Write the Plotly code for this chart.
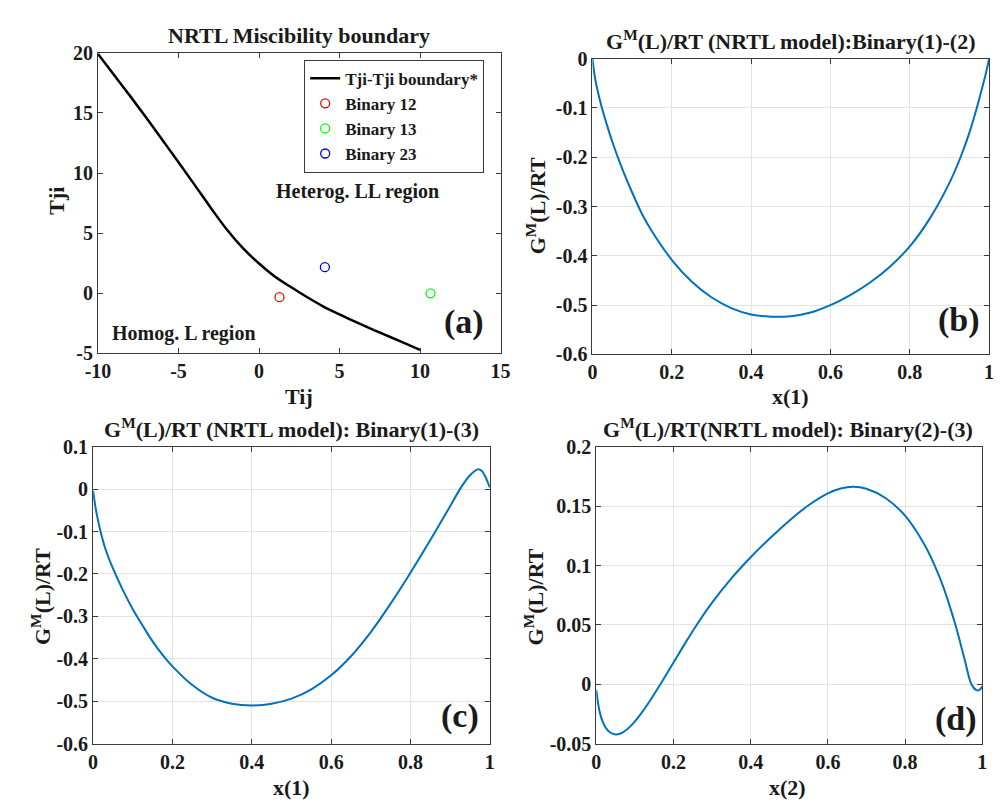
import plotly.graph_objects as go

# ---------------- data ----------------
# (a) miscibility boundary
tij_boundary = [-10, -9, -8, -7, -6, -5, -4, -3, -2, -1, 0, 1, 2, 3, 4, 5, 6, 7, 8, 9, 10]
tji_boundary = [19.9, 18.15, 16.4, 14.6, 12.75, 10.9, 9.02, 7.12, 5.3, 3.75, 2.48, 1.38, 0.5, -0.33,
                -1.1, -1.75, -2.38, -2.98, -3.55, -4.12, -4.7]
binary_names = ["Binary 12", "Binary 13", "Binary 23"]
binary_tij = [1.27, 10.65, 4.09]
binary_tji = [-0.32, 0.0, 2.17]
binary_colors = ["#FF0000", "#00FF00", "#0000FF"]

# (b) binary (1)-(2)
xb = [0, 0.005, 0.01, 0.023, 0.035, 0.05, 0.075, 0.1, 0.125, 0.15, 0.2, 0.25, 0.3, 0.35, 0.4,
      0.45, 0.5, 0.55, 0.6, 0.65, 0.7, 0.75, 0.8, 0.85, 0.9, 0.928, 0.95, 0.969, 0.98, 0.99,
      0.995, 1]
yb = [0, -0.031, -0.0535, -0.097, -0.13, -0.168, -0.223, -0.271, -0.315, -0.35, -0.408, -0.452,
      -0.484, -0.506, -0.519, -0.5235, -0.5225, -0.515, -0.5, -0.4795, -0.454, -0.422, -0.381,
      -0.325, -0.252, -0.2, -0.151, -0.1, -0.067, -0.036, -0.019, 0]

# (c) binary (1)-(3)
xc = [0, 0.005, 0.01, 0.018, 0.03, 0.05, 0.075, 0.1, 0.125, 0.15, 0.175, 0.2, 0.25, 0.3, 0.35,
      0.4, 0.45, 0.5, 0.55, 0.6, 0.65, 0.7, 0.75, 0.8, 0.85, 0.9, 0.928, 0.95, 0.962, 0.971,
      0.98, 0.99, 1]
yc = [-0.004, -0.037, -0.063, -0.097, -0.138, -0.187, -0.238, -0.283, -0.322, -0.359, -0.391,
      -0.418, -0.462, -0.492, -0.506, -0.51, -0.506, -0.494, -0.472, -0.439, -0.394, -0.337,
      -0.27, -0.197, -0.12, -0.04, 0.005, 0.033, 0.043, 0.047, 0.043, 0.027, 0.004]

# (d) binary (2)-(3)
xd = [0, 0.005, 0.01, 0.017, 0.025, 0.035, 0.0505, 0.07, 0.09, 0.11, 0.14, 0.17, 0.2, 0.23, 0.26,
      0.3, 0.35, 0.4, 0.45, 0.5, 0.55, 0.6, 0.633, 0.666, 0.7, 0.75, 0.8, 0.85, 0.876, 0.9, 0.931,
      0.955, 0.972, 0.985, 0.992, 1]
yd = [-0.005, -0.017, -0.025, -0.032, -0.037, -0.0405, -0.0423, -0.0403, -0.0349, -0.0273,
      -0.0135, 0.0021, 0.0182, 0.0344, 0.0499, 0.0687, 0.0892, 0.107, 0.123, 0.1378, 0.1508,
      0.1608, 0.1649, 0.1664, 0.1647, 0.1567, 0.142, 0.1178, 0.1006, 0.0812, 0.0494, 0.02, 0.0,
      -0.005, -0.005, -0.002]

xa_ticks = [-10, -5, 0, 5, 10, 15]
ya_ticks = [-5, 0, 5, 10, 15, 20]
x01_ticks = [0, 0.2, 0.4, 0.6, 0.8, 1]
x01_text = ["0", "0.2", "0.4", "0.6", "0.8", "1"]
yb_ticks = [-0.6, -0.5, -0.4, -0.3, -0.2, -0.1, 0]
yb_text = ["-0.6", "-0.5", "-0.4", "-0.3", "-0.2", "-0.1", "0"]
yc_ticks = [-0.6, -0.5, -0.4, -0.3, -0.2, -0.1, 0, 0.1]
yc_text = ["-0.6", "-0.5", "-0.4", "-0.3", "-0.2", "-0.1", "0", "0.1"]
yd_ticks = [-0.05, 0, 0.05, 0.1, 0.15, 0.2]
yd_text = ["-0.05", "0", "0.05", "0.1", "0.15", "0.2"]

# ---------------- figure ----------------
W, H = 1003, 810
FONT = "Liberation Serif, Times New Roman, serif"
BLUE = "#0072BD"
TXT = "#1a1a1a"


def px(x):
    return x / W


def py(y):
    return 1 - y / H


fig = go.Figure()

fig.add_trace(go.Scatter(x=tij_boundary, y=tji_boundary, mode="lines", name="Tji-Tji boundary*",
                         line=dict(color="black", width=2.5, shape="spline", smoothing=1.0),
                         xaxis="x", yaxis="y"))
for n, tx, ty, c in zip(binary_names, binary_tij, binary_tji, binary_colors):
    fig.add_trace(go.Scatter(x=[tx], y=[ty], mode="markers", name=n,
                             marker=dict(symbol="circle-open", size=9, color=c, line=dict(width=1.3)),
                             xaxis="x", yaxis="y"))

for xs, ys, k in ((xb, yb, "2"), (xc, yc, "3"), (xd, yd, "4")):
    fig.add_trace(go.Scatter(x=xs, y=ys, mode="lines",
                             line=dict(color=BLUE, width=2, shape="spline", smoothing=1.0),
                             showlegend=False, xaxis="x" + k, yaxis="y" + k))

axis_common = dict(showline=True, linecolor="#3a3a3a", linewidth=1, mirror="ticks", ticks="inside",
                   ticklen=5, tickcolor="#3a3a3a", zeroline=False,
                   tickfont=dict(family=FONT, size=20, color=TXT, weight="bold"))
grid = dict(showgrid=True, gridcolor="#e3e3e3", gridwidth=1)

fig.update_layout(
    width=W, height=H, margin=dict(l=0, r=0, t=0, b=0),
    paper_bgcolor="white", plot_bgcolor="white",
    font=dict(family=FONT, size=20, color=TXT, weight="bold"),
    xaxis=dict(domain=[px(87), px(499)], range=[-10, 15], tickvals=xa_ticks, ticktext=[str(v) for v in xa_ticks],
               anchor="y", showgrid=False, **axis_common),
    yaxis=dict(domain=[py(352), py(43)], range=[-5, 20], tickvals=ya_ticks, ticktext=[str(v) for v in ya_ticks],
               anchor="x", showgrid=False, **axis_common),
    xaxis2=dict(domain=[px(593), px(999)], range=[0, 1], tickvals=x01_ticks, ticktext=x01_text,
                anchor="y2", **grid, **axis_common),
    yaxis2=dict(domain=[py(353), py(49)], range=[-0.6, 0], tickvals=yb_ticks, ticktext=yb_text,
                anchor="x2", **grid, **axis_common),
    xaxis3=dict(domain=[px(82), px(488)], range=[0, 1], tickvals=x01_ticks, ticktext=x01_text,
                anchor="y3", **grid, **axis_common),
    yaxis3=dict(domain=[py(753), py(448)], range=[-0.6, 0.1], tickvals=yc_ticks, ticktext=yc_text,
                anchor="x3", **grid, **axis_common),
    xaxis4=dict(domain=[px(597), px(992)], range=[0, 1], tickvals=x01_ticks, ticktext=x01_text,
                anchor="y4", **grid, **axis_common),
    yaxis4=dict(domain=[py(753), py(448)], range=[-0.05, 0.2], tickvals=yd_ticks, ticktext=yd_text,
                anchor="x4", **grid, **axis_common),
    legend=dict(x=px(298), y=py(50), xanchor="left", yanchor="top", bgcolor="white",
                bordercolor="#3a3a3a", borderwidth=1, tracegroupgap=0,
                font=dict(family=FONT, size=17, color=TXT, weight="bold")),
    showlegend=True,
)


def ann(text, x, y, size=20, angle=0):
    fig.add_annotation(text=text, x=px(x), y=py(y), xref="paper", yref="paper", showarrow=False,
                       xanchor="center", yanchor="middle", textangle=angle,
                       font=dict(family=FONT, size=size, color=TXT, weight="bold"))


# titles
ann("NRTL Miscibility boundary", 293, 25, 22)
ann("G<sup>M</sup>(L)/RT (NRTL model):Binary(1)-(2)", 796, 30, 22)
ann("G<sup>M</sup>(L)/RT (NRTL model): Binary(1)-(3)", 285, 429, 22)
ann("G<sup>M</sup>(L)/RT(NRTL model): Binary(2)-(3)", 793, 429, 22)

# axis titles
ann("Tij", 293, 396, 22)
ann("Tji", 45, 195, 22, -90)
ann("x(1)", 796, 396, 22)
ann("G<sup>M</sup>(L)/RT", 535, 200, 22, -90)
ann("x(1)", 285, 798, 22)
ann("G<sup>M</sup>(L)/RT", 28, 602, 22, -90)
ann("x(2)", 793, 798, 22)
ann("G<sup>M</sup>(L)/RT", 533, 602, 22, -90)

# region texts
ann("Heterog. LL region", 353, 186, 20)
ann("Homog. L region", 175, 331, 20)

# panel labels
ann("(a)", 462, 320, 34)
ann("(b)", 968, 318, 34)
ann("(c)", 457, 725, 34)
ann("(d)", 965, 728, 34)

fig.write_html("out.html", config={"displayModeBar": False},
               post_script="document.body.style.margin='0';document.body.style.overflow='hidden';")
